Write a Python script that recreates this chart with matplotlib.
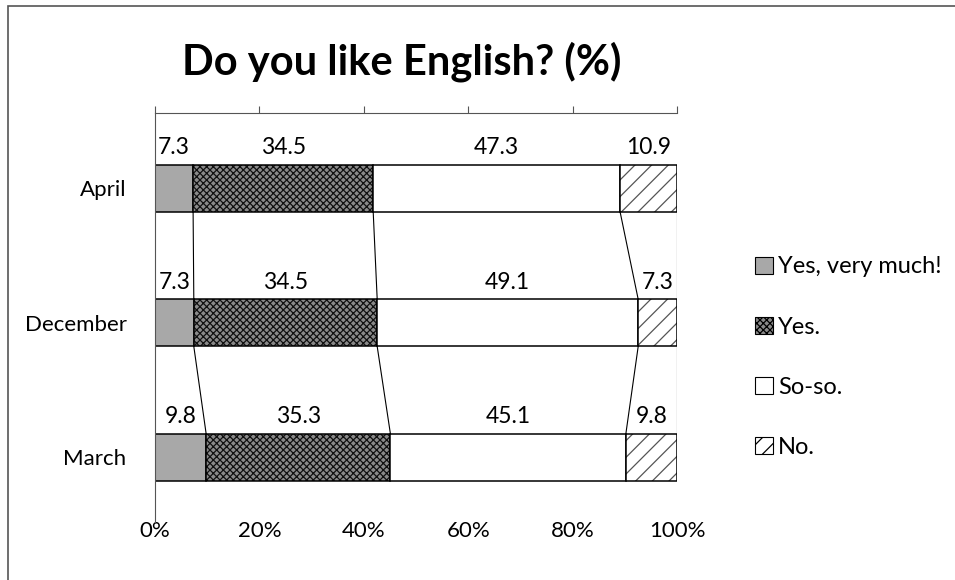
import numpy as np
import matplotlib.pyplot as plt
from matplotlib.patches import Patch, Rectangle

plt.rcParams['font.family'] = 'Lato'
plt.rcParams['hatch.linewidth'] = 0.9

# survey results (%), one row per month, top to bottom
months = ['April', 'December', 'March']
answers = ['Yes, very much!', 'Yes.', 'So-so.', 'No.']
very_much = [7.3, 7.3, 9.8]
yes = [34.5, 34.5, 35.3]
so_so = [47.3, 49.1, 45.1]
no = [10.9, 7.3, 9.8]

vals = np.array([very_much, yes, so_so, no]).T
shares = vals / vals.sum(axis=1, keepdims=True) * 100   # 100% stacked
cum = np.cumsum(shares, axis=1)
left = cum - shares

ypos = np.array([2, 1, 0])
h = 0.35

faces = ['#a8a8a8', '#8a8a8a', 'white', 'white']
hatches = [None, 'xxxxx', None, '//']
hcolors = ['none', '#111111', 'none', '#555555']

fig = plt.figure(figsize=(9.55, 5.8), dpi=100)
ax = fig.add_axes([155/955, 1-522/580, 522/955, 409/580])

for j in range(4):
    ax.barh(ypos, shares[:, j], left=left[:, j], height=h, color=faces[j], linewidth=0)
    if hatches[j]:
        ax.barh(ypos, shares[:, j], left=left[:, j], height=h, fill=False,
                hatch=hatches[j], edgecolor=hcolors[j], linewidth=0)
    ax.barh(ypos, shares[:, j], left=left[:, j], height=h, fill=False,
            edgecolor='black', linewidth=1.1)
    for i in range(3):
        ax.text(left[i, j] + shares[i, j]/2, ypos[i] + h/2 + 0.05, f'{vals[i, j]:.1f}',
                ha='center', va='bottom', fontsize=16.5)

# series lines between neighbouring bars
for i in range(2):
    for j in range(4):
        ax.plot([cum[i, j], cum[i+1, j]], [ypos[i] - h/2, ypos[i+1] + h/2],
                color='black', lw=0.8)

ax.set_xlim(0, 100)
ax.set_ylim(-0.48, 2.56)
ax.set_xticks(np.arange(0, 101, 20))
ax.set_xticklabels([f'{t}%' for t in range(0, 101, 20)])
ax.tick_params(axis='x', top=True, bottom=False, labeltop=False, labelbottom=True,
               direction='out', length=5, width=0.8, color='#555555', labelsize=16, pad=-6)
ax.set_yticks(ypos)
ax.set_yticklabels(months)
ax.tick_params(axis='y', left=False, labelsize=16, pad=17)
ax.spines['right'].set_visible(False)
ax.spines['bottom'].set_visible(False)
ax.spines['top'].set_color('#555555')
ax.spines['left'].set_color('#555555')

fig.text(402/955, 1-62/580, 'Do you like English? (%)', ha='center', va='center',
         fontsize=30, fontweight='bold')

handles = [Patch(facecolor=faces[j], edgecolor='black', hatch=hatches[j], linewidth=0.8)
           for j in range(4)]
fig.legend(handles, answers, loc='upper left', bbox_to_anchor=(746/955, 1-247/580),
           frameon=False, fontsize=17, handlelength=0.75, handleheight=0.75,
           handletextpad=0.2, labelspacing=1.66, borderaxespad=0)

# outer chart border
fig.add_artist(Rectangle((8/955, -0.1), 1.2, 1.1 - 6/580, transform=fig.transFigure,
                         fill=False, edgecolor='#555555', linewidth=1.2))

fig.savefig('out.png', dpi=100)
